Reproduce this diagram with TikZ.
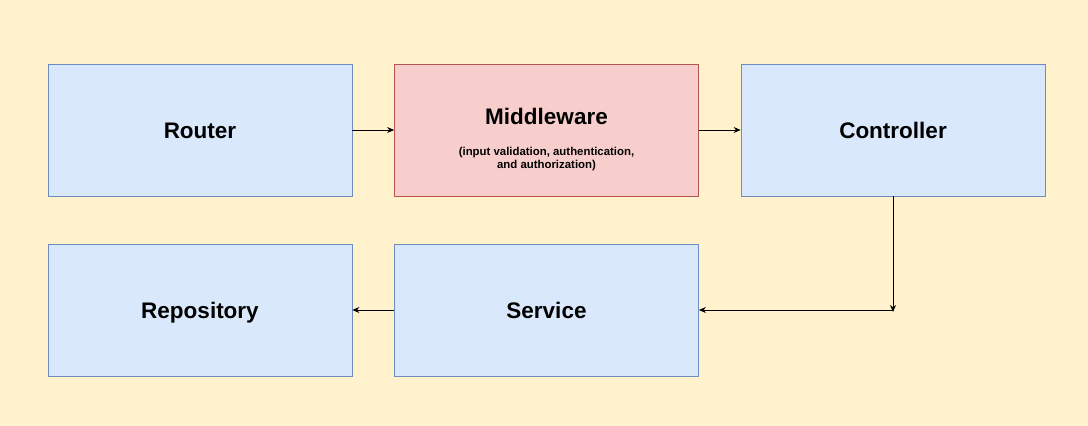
\documentclass[tikz,border=0pt]{standalone}
\usepackage{fontspec}
\setmainfont{Liberation Sans}
\usetikzlibrary{arrows.meta}
\definecolor{bgc}{HTML}{FFF2CC}
\definecolor{bluef}{HTML}{DAE8FC}
\definecolor{blued}{HTML}{6C8EBF}
\definecolor{redf}{HTML}{F8CECC}
\definecolor{redd}{HTML}{B85450}
\tikzset{
  blk/.style={draw=blued, fill=bluef, line width=0.8pt, minimum width=304pt, minimum height=132pt, inner sep=0pt, text height=16pt, text depth=0pt, font=\bfseries\fontsize{22.5}{26}\selectfont, align=center},
  redblk/.style={blk, draw=redd, fill=redf},
  conn/.style={draw=black, line width=0.8pt, -{Stealth[length=7pt,width=6pt]}},
}
\begin{document}
\begin{tikzpicture}[x=1pt,y=-1pt]
\fill[bgc] (0,0) rectangle (1088,426);
\useasboundingbox (0,0) rectangle (1088,426);
\node[blk] (router) at (200,130) {Router};
\node[redblk] (mw) at (546.5,130) {};
\node[font=\bfseries\fontsize{22.5}{26}\selectfont] (mwt) at (546.5,116) {Middleware};
\node[font=\bfseries\fontsize{11.4}{13}\selectfont, align=center] (mws) at (546.5,159) {(input validation, authentication,\\and authorization)};
\node[blk] (ctrl) at (893,130) {Controller};
\node[blk] (repo) at (200,310) {Repository};
\node[blk] (svc) at (546.5,310) {Service};
\coordinate (bend) at (893,310);
\draw[conn] (router.east) -- (mw.west);
\draw[conn] (mw.east) -- (ctrl.west);
\draw[conn] (ctrl.south) -- ([yshift=-2pt]bend);
\draw[conn] (bend) -- (svc.east);
\draw[conn] (svc.west) -- (repo.east);
\end{tikzpicture}
\end{document}
